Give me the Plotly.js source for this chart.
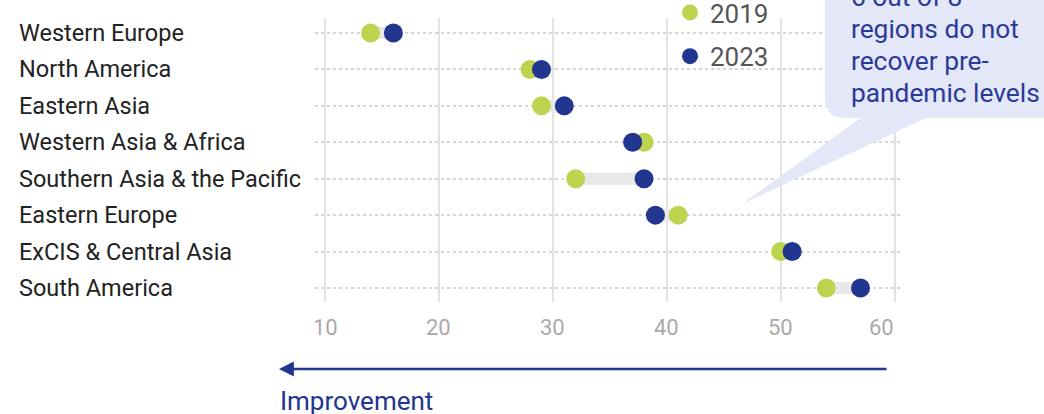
<!DOCTYPE html>
<html>
<head>
<meta charset="utf-8">
<script src="https://cdn.plot.ly/plotly-3.0.1.min.js"></script>
<style>html,body{margin:0;padding:0;background:#fff;}#chart{width:1044px;height:414px;}</style>
</head>
<body>
<div id="chart"></div>
<script>
// ---- data ----
var regions = ["Western Europe", "North America", "Eastern Asia", "Western Asia & Africa",
               "Southern Asia & the Pacific", "Eastern Europe", "ExCIS & Central Asia", "South America"];
var values2019 = [14, 28, 29, 38, 32, 41, 50, 54];
var values2023 = [16, 29, 31, 37, 38, 39, 51, 57];
var seriesNames = ["2019", "2023"];
var xTicks = [10, 20, 30, 40, 50, 60];
var calloutLines = ["6 out of 8", "regions do not", "recover pre-", "pandemic levels"];
var arrowLabel = "Improvement";

// ---- layout helpers (pixel -> paper) ----
var W = 1044, H = 414, L = 315, R = 902, T = 18, B = 302;
function px(x) { return (x - L) / (R - L); }
function py(y) { return (B - y) / (B - T); }

var GREEN = "#bfd44e", BLUE = "#22358f", LAV = "#e3e7f7";

// connector segments
var cx = [], cy = [];
for (var i = 0; i < regions.length; i++) {
  cx.push(values2019[i], values2023[i], null);
  cy.push(regions[i], regions[i], null);
}

var traces = [
  {type: "scatter", mode: "lines", x: cx, y: cy, showlegend: false,
   line: {color: "#e8e8e8", width: 12}, hoverinfo: "skip"},
  {type: "scatter", mode: "markers", name: seriesNames[0], x: values2019, y: regions,
   marker: {color: GREEN, size: 19}, legendgroup: "a"},
  {type: "scatter", mode: "markers", name: seriesNames[1], x: values2023, y: regions,
   marker: {color: BLUE, size: 19}, legendgroup: "b"}
];

var annotations = regions.map(function (r) {
  return {xref: "paper", yref: "y", x: px(17), y: r, xanchor: "left", yanchor: "middle",
          text: r, showarrow: false, font: {family: "Roboto", size: 23.5, color: "#222"}};
});
// x tick labels (last one sits flush against the plot's right edge)
xTicks.forEach(function (v, k) {
  annotations.push({xref: "x", yref: "paper", x: v, y: py(327), xanchor: "center", yanchor: "middle",
    xshift: (k === xTicks.length - 1) ? -13 : 0,
    text: String(v), showarrow: false, font: {family: "Roboto", size: 22, color: "#aaaaaa"}});
});
calloutLines.forEach(function (t, k) {
  annotations.push({xref: "paper", yref: "paper", x: px(849), y: py(-3 + 32 * k), xanchor: "left", yanchor: "middle",
    align: "left", text: t, showarrow: false,
    font: {family: "Roboto", size: 26.3, color: "#2a3a98"}});
});
annotations.push({xref: "paper", yref: "paper", x: px(279), y: py(369), ax: 888 - 279, ay: 0,
  axref: "pixel", ayref: "pixel", text: "", showarrow: true, arrowhead: 2, arrowsize: 1.1,
  arrowwidth: 2.7, arrowcolor: BLUE});
annotations.push({xref: "paper", yref: "paper", x: px(278), y: py(401), xanchor: "left", yanchor: "middle",
  text: arrowLabel, showarrow: false, font: {family: "Roboto", size: 26, color: BLUE}});

var r = 20;
var boxPath = "M" + px(825) + "," + py(-30) +
  " L" + px(825) + "," + py(118 - r) +
  " Q" + px(825) + "," + py(118) + " " + px(825 + r) + "," + py(118) +
  " L" + px(1060) + "," + py(118) +
  " L" + px(1060) + "," + py(-30) + " Z";
var triPath = "M" + px(862) + "," + py(117) + " L" + px(742) + "," + py(204) +
  " L" + px(928) + "," + py(117) + " Z";

var layout = {
  width: W, height: H,
  margin: {l: L, r: W - R, t: T, b: H - B, pad: 0, autoexpand: false},
  paper_bgcolor: "#fff", plot_bgcolor: "#fff",
  font: {family: "Roboto", color: "#222"},
  xaxis: {range: [9.122, 60.64], tickvals: xTicks, showticklabels: false,
          showgrid: true, gridcolor: "#e3e3e3", gridwidth: 2, zeroline: false, showline: false,
          ticks: "", fixedrange: true, automargin: false},
  yaxis: {type: "category", categoryorder: "array", categoryarray: regions,
          range: [7.384, -0.412], showticklabels: false, ticks: "",
          showgrid: true, gridcolor: "#d6d6d6", gridwidth: 2, griddash: "dot",
          zeroline: false, showline: false, fixedrange: true, automargin: false},
  showlegend: true,
  legend: {x: px(670), y: py(-11), xanchor: "left", yanchor: "top", bgcolor: "rgba(0,0,0,0)",
           traceorder: "grouped", tracegroupgap: 7,
           font: {family: "Roboto", size: 26, color: "#555"}},
  shapes: [
    {type: "path", xref: "paper", yref: "paper", path: boxPath, fillcolor: LAV, line: {width: 0}, layer: "above"},
    {type: "path", xref: "paper", yref: "paper", path: triPath, fillcolor: LAV, line: {width: 0}, layer: "above"}
  ],
  annotations: annotations
};

Plotly.newPlot("chart", traces, layout, {staticPlot: true, displayModeBar: false});
</script>
</body>
</html>
